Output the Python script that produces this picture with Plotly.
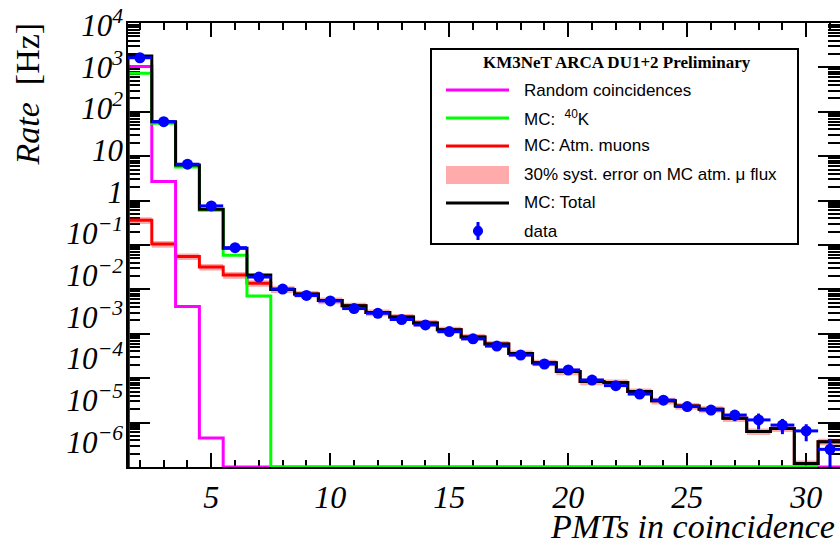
import plotly.graph_objects as go

# ---------------- data ----------------
n_pmt = list(range(2, 32))  # bins: 2..31 PMTs in coincidence

data_rate = [1650, 60, 6.6, 0.76, 0.087, 0.019, 0.0102, 0.0073, 0.0055, 0.0037,
             0.0029, 0.0021, 0.00158, 0.00112, 7.7e-4, 5.3e-4, 3.33e-4, 2.09e-4, 1.53e-4, 9.1e-5,
             6.8e-5, 4.4e-5, 3.2e-5, 2.3e-5, 1.92e-5, 1.48e-5, 1.15e-5, 8.8e-6, 6.5e-6, 2.5e-6]
data_err = [20, 1.0, 0.15, 0.02, 0.003, 0.0008, 0.0005, 0.0004, 0.0003, 0.0002,
            0.00017, 0.00013, 1.0e-4, 8e-5, 6e-5, 4.5e-5, 3.3e-5, 2.5e-5, 2e-5, 1.5e-5,
            1.2e-5, 9e-6, 7e-6, 5e-6, 4.5e-6, 4e-6, 4.5e-6, 3.3e-6, 2.7e-6, 1.8e-6]

mc_total = [1800, 60, 6.3, 0.64, 0.085, 0.021, 0.0100, 0.0079, 0.0056, 0.0043,
            0.0030, 0.0024, 0.00175, 0.00123, 8.5e-4, 5.9e-4, 3.6e-4, 2.23e-4, 1.41e-4, 8.4e-5,
            8.0e-5, 5.0e-5, 3.1e-5, 2.35e-5, 2.0e-5, 1.25e-5, 6.3e-6, 7.4e-6, 1.2e-6, 3.7e-6]
mc_muons = [0.36, 0.105, 0.055, 0.032, 0.021, 0.0138, 0.0100, 0.0079, 0.0056, 0.0043,
            0.0030, 0.0024, 0.00175, 0.00123, 8.5e-4, 5.9e-4, 3.6e-4, 2.23e-4, 1.41e-4, 8.4e-5,
            8.0e-5, 5.0e-5, 3.1e-5, 2.35e-5, 2.0e-5, 1.25e-5, 6.3e-6, 7.4e-6, 1.2e-6, 3.7e-6]
mc_k40 = [740, 55, 5.7, 0.61, 0.059, 0.0071, 0, 0, 0, 0,
          0, 0, 0, 0, 0, 0, 0, 0, 0, 0,
          0, 0, 0, 0, 0, 0, 0, 0, 0]          # bins 2..30
random_coinc = [1050, 2.7, 0.0041, 4.5e-6, 0, 0, 0, 0, 0, 0,
                0, 0, 0, 0, 0, 0, 0, 0, 0, 0,
                0, 0, 0, 0, 0, 0, 0, 0, 0, 0]
band_frac = 0.17   # visual half-width of the syst. band as drawn in the reference

y_tickvals = [1e4, 1e3, 1e2, 1e1, 1, 1e-1, 1e-2, 1e-3, 1e-4, 1e-5, 1e-6]
y_ticktext = ["10<sup>4</sup>", "10<sup>3</sup>", "10<sup>2</sup>", "10", "1",
              "10<sup>\u22121</sup>", "10<sup>\u22122</sup>", "10<sup>\u22123</sup>",
              "10<sup>\u22124</sup>", "10<sup>\u22125</sup>", "10<sup>\u22126</sup>"]
x_tickvals = [5, 10, 15, 20, 25, 30]
x_ticktext = ["5", "10", "15", "20", "25", "30"]

Y_MIN = 1e-6
Y_MAX = 1e4
X_MIN = 1.5
X_MAX = 31.42

# ---------------- helpers ----------------
def step_xy(vals, floor_ends=True):
    m = len(vals)
    edges = [c - 0.5 for c in n_pmt[:m]] + [n_pmt[m - 1] + 0.5]
    shown = [v if v > 0 else Y_MIN for v in vals]
    xs, ys = [], []
    if floor_ends:
        xs.append(edges[0]); ys.append(Y_MIN)
    for i, v in enumerate(shown):
        xs.append(edges[i]); ys.append(v)
    xs.append(edges[-1]); ys.append(shown[-1])
    if floor_ends:
        xs.append(edges[-1]); ys.append(Y_MIN)
    return xs, ys

fig = go.Figure()

# systematic band on muons
lo_x, lo_y = step_xy([v * (1 - band_frac) for v in mc_muons], floor_ends=False)
hi_x, hi_y = step_xy([v * (1 + band_frac) for v in mc_muons], floor_ends=False)
fig.add_trace(go.Scatter(x=lo_x, y=lo_y, mode="lines", line=dict(width=0, shape="hv"),
                         hoverinfo="skip", showlegend=False))
fig.add_trace(go.Scatter(x=hi_x, y=hi_y, mode="lines", line=dict(width=0, shape="hv"),
                         fill="tonexty", fillcolor="rgba(255,0,0,0.33)",
                         hoverinfo="skip", showlegend=False))

for vals, col in [(mc_muons, "#ff0000"), (random_coinc, "#ff00ff"), (mc_k40, "#00ff00")]:
    xs, ys = step_xy(vals)
    fig.add_trace(go.Scatter(x=xs, y=ys, mode="lines", line=dict(color=col, width=3, shape="hv"),
                             showlegend=False))

xs, ys = step_xy(mc_total)
fig.add_trace(go.Scatter(x=xs, y=ys, mode="lines", line=dict(color="black", width=3, shape="hv"),
                         showlegend=False))

fig.add_trace(go.Scatter(
    x=n_pmt, y=data_rate, mode="markers",
    marker=dict(color="#0000ff", size=11),
    error_x=dict(type="data", array=[0.5] * len(n_pmt), color="#0000ff", thickness=3, width=0),
    error_y=dict(type="data", array=data_err, color="#0000ff", thickness=3, width=0),
    showlegend=False))

# invisible trace for the label axis
fig.add_trace(go.Scatter(x=[None], y=[None], yaxis="y2", mode="markers",
                         showlegend=False, hoverinfo="skip"))

# ---------------- layout ----------------
W, H = 840, 546
L, R, T, B = 128, 0, 23, 79
PW, PH = W - L - R, H - T - B

def px(xp):
    return (xp - L) / PW

def py(yp):
    return (H - B - yp) / PH

serif = "Liberation Serif"
sans = "Liberation Sans"

fig.update_layout(
    width=W, height=H,
    margin=dict(l=L, r=R, t=T, b=B, pad=0, autoexpand=False),
    paper_bgcolor="white", plot_bgcolor="white",
    showlegend=False,
    xaxis=dict(range=[X_MIN, X_MAX], showgrid=False, zeroline=False, automargin=False,
               showline=True, linecolor="black", linewidth=2, mirror="ticks",
               ticks="inside", ticklen=14, tickwidth=2, tickcolor="black",
               tickvals=x_tickvals, ticktext=x_ticktext,
               tickfont=dict(family=serif, size=32, color="black", style="italic"),
               ticklabelstandoff=1,
               minor=dict(ticks="inside", ticklen=7, tickwidth=2, tickcolor="black", dtick=1, tick0=0,
                          showgrid=False),
               layer="below traces"),
    yaxis=dict(type="log", range=[-6, 4], showgrid=False, zeroline=False, automargin=False,
               showline=True, linecolor="black", linewidth=2, mirror="ticks",
               ticks="inside", ticklen=22, tickwidth=2, tickcolor="black",
               tickvals=y_tickvals, showticklabels=False,
               minor=dict(ticks="inside", ticklen=12, tickwidth=1.5, tickcolor="black",
                          dtick="D1", showgrid=False),
               layer="below traces"),
    yaxis2=dict(type="log", overlaying="y", side="left", anchor="x", automargin=False,
                range=[-6.6, 4.048], showgrid=False, zeroline=False, showline=False,
                ticks="", tickvals=y_tickvals, ticktext=y_ticktext,
                tickfont=dict(family=serif, size=31, color="black", style="italic"),
                ticklabelstandoff=4),
)

# axis titles
fig.add_annotation(xref="paper", yref="paper", x=px(27), y=py(20), xanchor="center", yanchor="top",
                   text="<i>Rate</i>  [Hz]", textangle=-90, showarrow=False,
                   font=dict(family=serif, size=34, color="black"))
fig.add_annotation(xref="paper", yref="paper", x=px(837), y=py(526), xanchor="right", yanchor="middle",
                   text="<i>PMTs in coincidence</i>", showarrow=False,
                   font=dict(family=serif, size=34, color="black"))

# legend box
shapes = [dict(type="rect", xref="paper", yref="paper", x0=px(431), x1=px(798), y0=py(244), y1=py(49),
               line=dict(color="black", width=2), fillcolor="white")]
rows = [90, 118, 146, 175, 203, 231]
for yy, col in [(rows[0], "#ff00ff"), (rows[1], "#00ff00"), (rows[2], "#ff0000"), (rows[4], "black")]:
    shapes.append(dict(type="line", xref="paper", yref="paper", x0=px(446), x1=px(509), y0=py(yy), y1=py(yy),
                       line=dict(color=col, width=3)))
shapes.append(dict(type="rect", xref="paper", yref="paper", x0=px(446), x1=px(509),
                   y0=py(rows[3] + 9), y1=py(rows[3] - 9),
                   line=dict(width=0), fillcolor="rgba(255,0,0,0.33)"))
shapes.append(dict(type="line", xref="paper", yref="paper", x0=px(478), x1=px(478),
                   y0=py(rows[5] + 9), y1=py(rows[5] - 9), line=dict(color="#0000ff", width=3)))
shapes.append(dict(type="circle", xref="paper", yref="paper", x0=px(473.5), x1=px(482.5),
                   y0=py(rows[5] + 5), y1=py(rows[5] - 5), line=dict(color="#0000ff", width=1),
                   fillcolor="#0000ff"))
fig.update_layout(shapes=shapes)

fig.add_annotation(xref="paper", yref="paper", x=px(617), y=py(63), xanchor="center", yanchor="middle",
                   text="<b>KM3NeT ARCA DU1+2 Preliminary</b>", showarrow=False,
                   font=dict(family=serif, size=17, color="black"))
labels = ["Random coincidences", "MC:  <sup>40</sup>K", "MC: Atm. muons",
          "30% syst. error on MC atm. \u03bc flux", "MC: Total", "data"]
for yy, lab in zip(rows, labels):
    fig.add_annotation(xref="paper", yref="paper", x=px(522), y=py(yy), xanchor="left", yanchor="middle",
                       text=lab, showarrow=False, font=dict(family=sans, size=17, color="black"))

fig.write_html("out.html", config={"displayModeBar": False},
               post_script="document.body.style.margin='0';")
